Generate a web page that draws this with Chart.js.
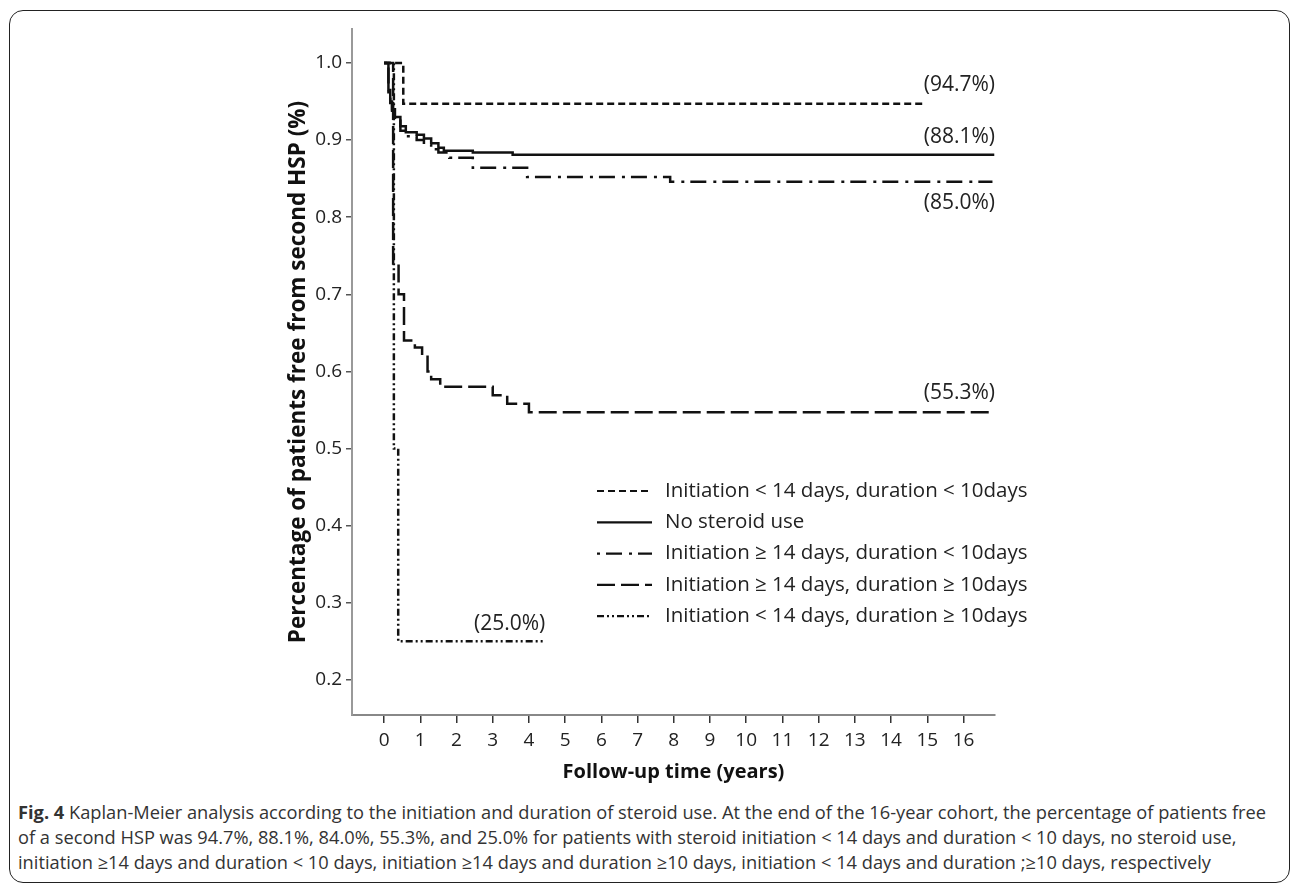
<!DOCTYPE html>
<html lang="en">
<head>
<meta charset="UTF-8" />
<title>Kaplan-Meier: steroid initiation and duration</title>
<script src="https://cdn.jsdelivr.net/npm/chart.js@4.4.0/dist/chart.umd.min.js"></script>
<style>
  body { margin: 0; background: #fff; width: 1292px; height: 887px; overflow: hidden; position: relative; font-family: "Open Sans", sans-serif; }
  .frame { position: absolute; left: 9px; top: 10px; width: 1281px; height: 873px; border: 1.5px solid #222; border-radius: 14px; box-sizing: border-box; }
  .chart-box { position: absolute; left: 0; top: 0; width: 1292px; height: 800px; }
  .caption { position: absolute; left: 18px; top: 800px; font-size: 18px; color: #333; line-height: 25px; }
  .caption div { white-space: nowrap; transform-origin: left center; }
</style>
</head>
<body>
  <div class="frame"></div>
  <div class="chart-box"><canvas id="kmChart" width="1292" height="800"></canvas></div>
  <div class="caption" id="caption">
    <div><b>Fig. 4</b> Kaplan-Meier analysis according to the initiation and duration of steroid use. At the end of the 16-year cohort, the percentage of patients free</div>
    <div>of a second HSP was 94.7%, 88.1%, 84.0%, 55.3%, and 25.0% for patients with steroid initiation &lt; 14 days and duration &lt; 10 days, no steroid use,</div>
    <div>initiation ≥14 days and duration &lt; 10 days, initiation ≥14 days and duration ≥10 days, initiation &lt; 14 days and duration ;≥10 days, respectively</div>
  </div>

<script>
  // ---- data (years, proportion free) ----
  const seriesLabels = [
    'Initiation < 14 days, duration < 10days',
    'No steroid use',
    'Initiation ≥ 14 days, duration < 10days',
    'Initiation ≥ 14 days, duration ≥ 10days',
    'Initiation < 14 days, duration ≥ 10days'
  ];
  const endLabels = ['(94.7%)', '(88.1%)', '(85.0%)', '(55.3%)', '(25.0%)'];

  const earlyShortTimes = [0, 0.53, 14.9];
  const earlyShortSurv  = [1.0, 0.947, 0.947];

  const noSteroidTimes = [0, 0.12, 0.17, 0.22, 0.3, 0.45, 0.6, 0.9, 1.1, 1.3, 1.5, 1.65, 2.45, 3.55, 16.85];
  const noSteroidSurv  = [1.0, 0.965, 0.95, 0.94, 0.93, 0.918, 0.91, 0.907, 0.902, 0.896, 0.89, 0.886, 0.884, 0.881, 0.881];

  const lateShortTimes = [0, 0.12, 0.17, 0.22, 0.3, 0.45, 0.6, 0.9, 1.1, 1.3, 1.5, 1.8, 2.45, 3.95, 7.9, 16.8];
  const lateShortSurv  = [1.0, 0.96, 0.948, 0.935, 0.925, 0.912, 0.905, 0.9, 0.894, 0.888, 0.884, 0.877, 0.864, 0.852, 0.846, 0.846];

  const lateLongTimes = [0, 0.25, 0.4, 0.55, 0.85, 1.05, 1.2, 1.3, 1.55, 3.0, 3.4, 4.0, 16.85];
  const lateLongSurv  = [1.0, 0.74, 0.70, 0.64, 0.631, 0.621, 0.60, 0.59, 0.58, 0.569, 0.558, 0.547, 0.547];

  const earlyLongTimes = [0, 0.27, 0.39, 4.45];
  const earlyLongSurv  = [1.0, 0.5, 0.25, 0.25];

  const xTicks = [0, 1, 2, 3, 4, 5, 6, 7, 8, 9, 10, 11, 12, 13, 14, 15, 16];
  const yTicks = [0.2, 0.3, 0.4, 0.5, 0.6, 0.7, 0.8, 0.9, 1.0];

  function pts(t, s) {
    return t.map((v, i) => ({x: v, y: s[i]}));
  }

  const dashes = [[7, 4], [], [3, 6, 16, 7], [18, 6], [7, 3, 2, 3, 2, 3]];
  const curves = [
    pts(earlyShortTimes, earlyShortSurv),
    pts(noSteroidTimes, noSteroidSurv),
    pts(lateShortTimes, lateShortSurv),
    pts(lateLongTimes, lateLongSurv),
    pts(earlyLongTimes, earlyLongSurv)
  ];

  const datasets = curves.map((d, i) => ({
    label: seriesLabels[i],
    data: d,
    borderColor: '#111',
    borderWidth: 2.5,
    borderDash: dashes[i],
    pointRadius: 0,
    stepped: true,
    fill: false
  }));

  // legend + end-of-curve labels
  const kmExtras = {
    id: 'kmExtras',
    afterDatasetsDraw(chart) {
      const ctx = chart.ctx;
      const x = chart.scales.x, y = chart.scales.y;
      ctx.save();
      ctx.fillStyle = '#222';
      ctx.textBaseline = 'middle';

      ctx.font = '21px "Open Sans"';
      ctx.textAlign = 'right';
      const offs = [-19, -18, 21, -19, -17];
      endLabels.forEach((txt, i) => {
        const d = chart.data.datasets[i].data;
        const last = d[d.length - 1];
        const px = i === 4 ? x.getPixelForValue(last.x) : x.right;
        ctx.fillText(txt, px, y.getPixelForValue(last.y) + offs[i]);
      });

      ctx.font = '20.5px "Open Sans"';
      ctx.textAlign = 'left';
      chart.data.datasets.forEach((ds, i) => {
        const ly = 491 + i * 31.3;
        ctx.strokeStyle = '#111';
        ctx.lineWidth = 2.2;
        ctx.setLineDash(ds.borderDash);
        ctx.beginPath();
        ctx.moveTo(597, ly);
        ctx.lineTo(652, ly);
        ctx.stroke();
        ctx.setLineDash([]);
        ctx.fillText(ds.label, 665, ly);
      });
      ctx.restore();
    }
  };

  new Chart('kmChart', {
    type: 'line',
    data: {datasets: datasets},
    plugins: [kmExtras],
    options: {
      responsive: false,
      animation: false,
      layout: {padding: {left: 285, top: 29, right: 297, bottom: 16}},
      plugins: {legend: {display: false}, tooltip: {enabled: false}},
      scales: {
        x: {
          type: 'linear',
          min: -0.886,
          max: 16.87,
          afterBuildTicks: s => { s.ticks = xTicks.map(v => ({value: v})); },
          afterFit: s => { s.height = 69; },
          grid: {drawOnChartArea: false, drawTicks: true, tickLength: 8, color: '#333', lineWidth: 1.5},
          border: {display: true, color: '#888', width: 2},
          ticks: {color: '#222', padding: 6, maxRotation: 0, autoSkip: false, font: {family: 'Open Sans', size: 19}},
          title: {display: true, text: 'Follow-up time (years)', color: '#111', padding: 0,
                  font: {family: 'Open Sans', size: 20, weight: 'bold'}}
        },
        y: {
          type: 'linear',
          min: 0.1545,
          max: 1.044,
          afterBuildTicks: s => { s.ticks = yTicks.map(v => ({value: v})); },
          afterFit: s => { s.width = 67; },
          grid: {drawOnChartArea: false, drawTicks: true, tickLength: 6, color: '#555', lineWidth: 1.5},
          border: {display: true, color: '#999', width: 2},
          ticks: {color: '#222', padding: 4, autoSkip: false, font: {family: 'Open Sans', size: 19},
                  callback: v => v.toFixed(1)},
          title: {display: true, text: 'Percentage of patients free from second HSP (%)', color: '#111', padding: 0,
                  font: {family: 'Open Sans', size: 22.5, weight: 'bold'}}
        }
      }
    }
  });

  // squeeze caption lines to the narrow type of the original
  const lines = document.querySelectorAll('#caption div');
  const w0 = lines[0].getBoundingClientRect().width;
  const k = 1248 / w0;
  lines.forEach(el => { el.style.transform = 'scaleX(' + k + ')'; });
</script>
</body>
</html>
